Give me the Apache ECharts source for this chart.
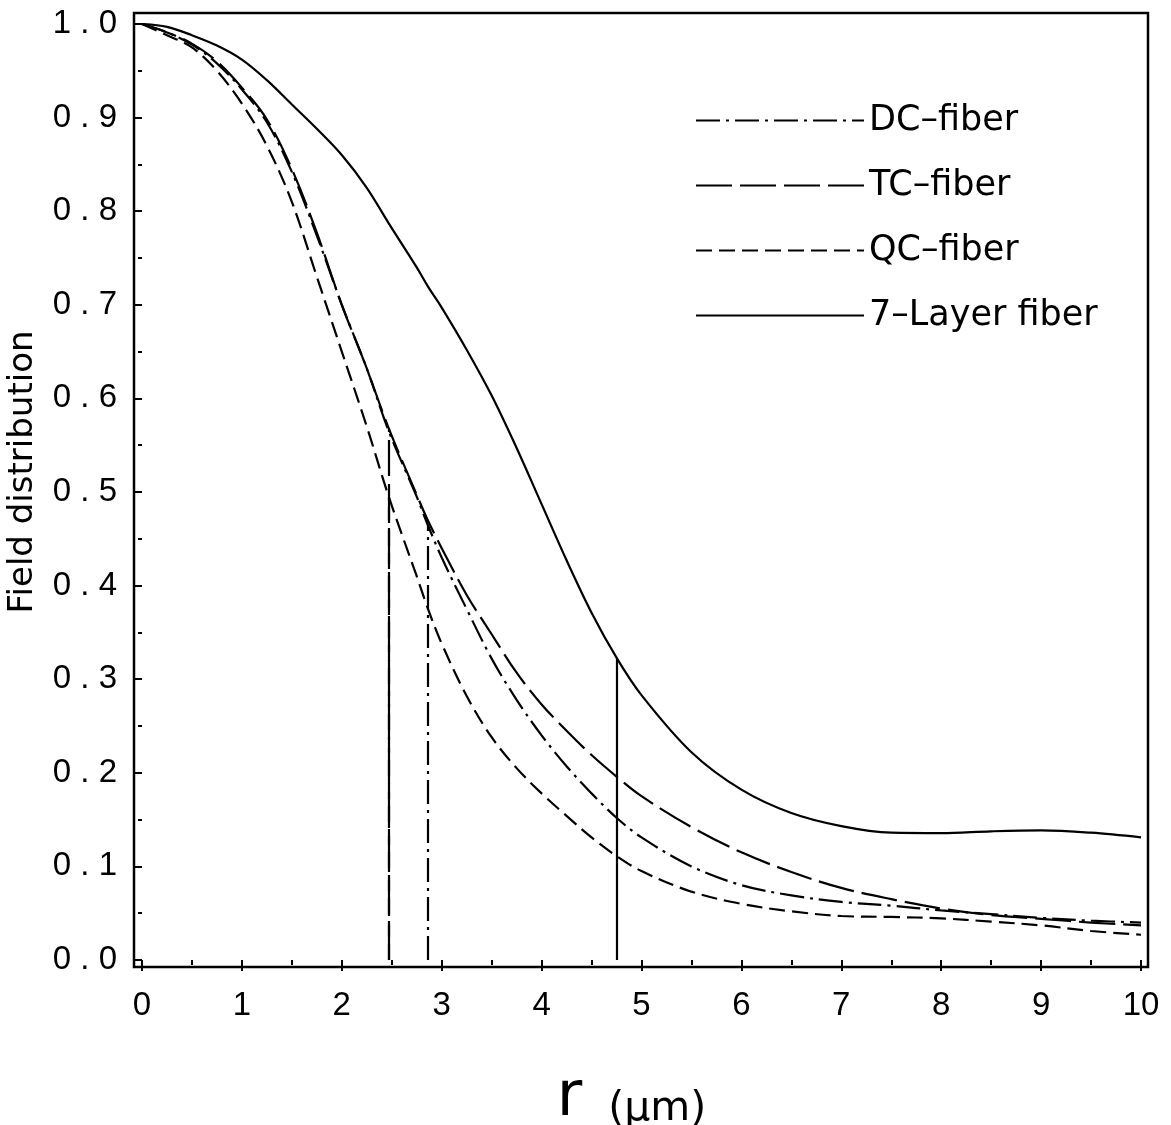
<!DOCTYPE html>
<html>
<head>
<meta charset="utf-8">
<script src="https://cdn.jsdelivr.net/npm/echarts@6/dist/echarts.min.js"></script>
<style>
  html, body { margin: 0; padding: 0; background: #fff; }
  #chart { width: 1171px; height: 1125px; }
</style>
</head>
<body>
<div id="chart"></div>
<script>
// Radial position r (µm) at which each field profile is sampled
const radius = [0, 0.25, 0.5, 0.75, 1, 1.25, 1.5, 1.75, 2, 2.25, 2.47, 2.75, 2.86, 3, 3.25, 3.5, 3.75, 4, 4.25, 4.5, 4.75, 5, 5.5, 6, 6.5, 7, 7.5, 8, 8.5, 9, 9.5, 10];

// Normalised field distribution of each fiber design
const dcField = [1, 0.991, 0.978, 0.958, 0.930, 0.895, 0.842, 0.774, 0.70, 0.632, 0.565, 0.495, 0.465, 0.43, 0.375, 0.322, 0.278, 0.24, 0.207, 0.178, 0.152, 0.131, 0.10, 0.08, 0.069, 0.062, 0.058, 0.053, 0.049, 0.045, 0.042, 0.040];
const tcField = [1, 0.991, 0.979, 0.96, 0.932, 0.898, 0.845, 0.777, 0.70, 0.632, 0.568, 0.497, 0.47, 0.44, 0.39, 0.348, 0.307, 0.273, 0.245, 0.219, 0.196, 0.175, 0.142, 0.115, 0.094, 0.077, 0.065, 0.055, 0.048, 0.044, 0.040, 0.037];
const qcField = [1, 0.988, 0.975, 0.95, 0.915, 0.87, 0.81, 0.73, 0.65, 0.57, 0.495, 0.41, 0.376, 0.338, 0.282, 0.238, 0.205, 0.178, 0.154, 0.131, 0.111, 0.095, 0.073, 0.06, 0.052, 0.047, 0.046, 0.0445, 0.041, 0.037, 0.031, 0.027];
const layer7Field = [1, 0.997, 0.988, 0.977, 0.962, 0.94, 0.914, 0.888, 0.86, 0.825, 0.787, 0.74, 0.72, 0.697, 0.652, 0.603, 0.547, 0.487, 0.427, 0.371, 0.323, 0.283, 0.222, 0.182, 0.157, 0.143, 0.136, 0.1355, 0.1375, 0.1385, 0.136, 0.131];

// Series names and the radius of each design's core edge (vertical marker)
const fiberNames = ['DC–fiber', 'TC–fiber', 'QC–fiber', '7–Layer fiber'];
const coreEdge = [2.86, 2.47, 2.47, 4.75];

// Axis ticks
const xTicks = { min: 0, max: 10, step: 1 };
const yTicks = { min: 0, max: 1, step: 0.1 };

const fields = [dcField, tcField, qcField, layer7Field];
const dashStyles = [
  [24, 6, 3, 6],   // dash-dot
  [36, 8],         // long dash
  [16, 7],         // short dash
  'solid'
];

const series = fiberNames.map((name, i) => {
  const edgeIdx = radius.indexOf(coreEdge[i]);
  const style = { color: '#000', width: 2.2, type: dashStyles[i] };
  return {
    name: name,
    type: 'line',
    xAxisIndex: 0,
    yAxisIndex: 0,
    data: radius.map((r, k) => [r, fields[i][k]]),
    symbol: 'none',
    smooth: 0.35,
    lineStyle: style,
    itemStyle: { color: '#000' },
    markLine: {
      silent: true,
      symbol: ['none', 'none'],
      label: { show: false },
      lineStyle: { color: '#000', width: 2.2, type: dashStyles[i] },
      data: [[
        { coord: [coreEdge[i], 0] },
        { coord: [coreEdge[i], fields[i][edgeIdx]] }
      ]]
    }
  };
});

const tickFont = 'Liberation Sans, Arial, sans-serif';
const textFont = 'DejaVu Sans, sans-serif';

const chart = echarts.init(document.getElementById('chart'), null, { renderer: 'canvas' });
chart.setOption({
  animation: false,
  backgroundColor: '#fff',
  grid: [
    { left: 142, right: 30, top: 24, bottom: 165, containLabel: false, outerBoundsMode: 'none' },
    { left: 134, right: 23, top: 13, bottom: 158, containLabel: false, outerBoundsMode: 'none',
      show: true, borderColor: '#000', borderWidth: 2.5, backgroundColor: 'transparent' }
  ],
  legend: {
    data: fiberNames,
    orient: 'vertical',
    left: 690,
    top: 98,
    itemWidth: 168,
    itemHeight: 20,
    itemGap: 30,
    selectedMode: false,
    itemStyle: { opacity: 0 },
    textStyle: { fontFamily: textFont, fontSize: 35, color: '#000' }
  },
  xAxis: [
    {
      type: 'value', gridIndex: 0,
      min: xTicks.min, max: xTicks.max, interval: xTicks.step,
      offset: 7,
      name: '{r|r}{u|  (μm)}',
      nameLocation: 'middle',
      nameGap: 99,
      nameTextStyle: {
        padding: [0, 20, 0, 0],
        rich: {
          r: { fontFamily: textFont, fontSize: 62, color: '#000', verticalAlign: 'bottom', lineHeight: 64 },
          u: { fontFamily: textFont, fontSize: 41, color: '#000', verticalAlign: 'bottom', lineHeight: 60 }
        }
      },
      axisLine: { show: false },
      axisTick: { show: true, inside: false, length: 11, lineStyle: { color: '#000', width: 2 } },
      minorTick: { show: true, splitNumber: 2, length: 5, lineStyle: { color: '#000', width: 2 } },
      splitLine: { show: false },
      axisLabel: { margin: 22, fontFamily: tickFont, fontSize: 33, color: '#000' }
    },
    { type: 'value', gridIndex: 1, show: false, min: 0, max: 1 }
  ],
  yAxis: [
    {
      type: 'value', gridIndex: 0,
      min: yTicks.min, max: yTicks.max, interval: yTicks.step,
      offset: 8,
      name: 'Field distribution',
      nameLocation: 'middle',
      nameGap: 94,
      nameTextStyle: { fontFamily: textFont, fontSize: 34, color: '#000', padding: [0, 0, 0, 40] },
      axisLine: { show: false },
      axisTick: { show: true, inside: false, length: 7, lineStyle: { color: '#000', width: 2 } },
      minorTick: { show: true, splitNumber: 2, length: 4, lineStyle: { color: '#000', width: 2 } },
      splitLine: { show: false },
      axisLabel: {
        margin: 17, fontFamily: tickFont, fontSize: 33, color: '#000',
        formatter: v => v.toFixed(1).split('').join(' ')
      }
    },
    { type: 'value', gridIndex: 1, show: false, min: 0, max: 1 }
  ],
  series: series
});
</script>
</body>
</html>
